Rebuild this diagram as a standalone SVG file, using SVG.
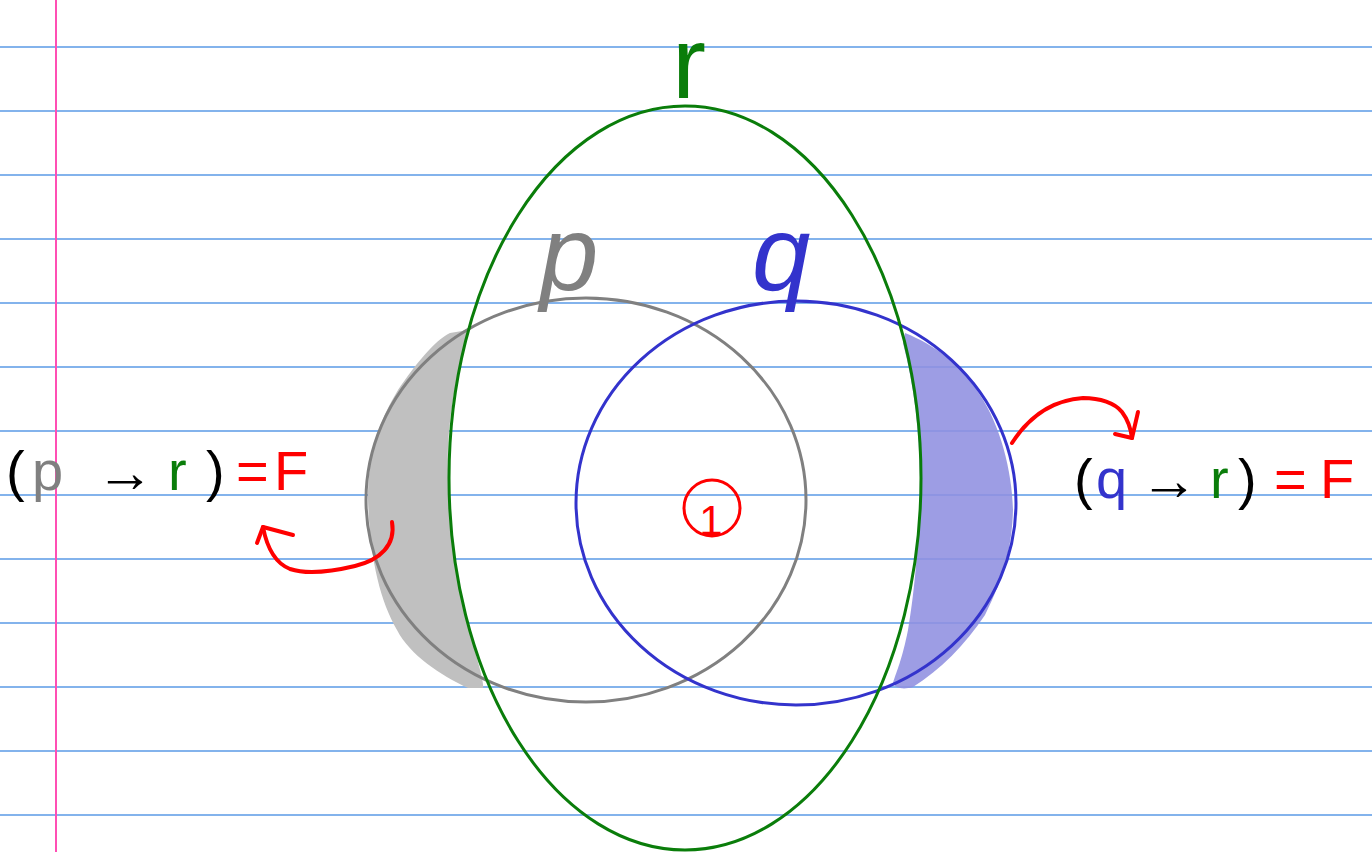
<svg xmlns="http://www.w3.org/2000/svg" width="1372" height="852" viewBox="0 0 1372 852">
<style>
.rule{stroke:#5a9ae6;stroke-width:1.3}
.hand{fill:none;stroke-linecap:round;stroke-linejoin:round}
.lbl{font-family:"Liberation Sans","DejaVu Sans",sans-serif}
.arr{font-size:58px}
</style>
<rect width="1372" height="852" fill="#ffffff"/>
<g id="paper">
<line class="rule" x1="0" y1="47" x2="1372" y2="47"/>
<line class="rule" x1="0" y1="111" x2="1372" y2="111"/>
<line class="rule" x1="0" y1="175" x2="1372" y2="175"/>
<line class="rule" x1="0" y1="239" x2="1372" y2="239"/>
<line class="rule" x1="0" y1="303" x2="1372" y2="303"/>
<line class="rule" x1="0" y1="367" x2="1372" y2="367"/>
<line class="rule" x1="0" y1="431" x2="1372" y2="431"/>
<line class="rule" x1="0" y1="495" x2="1372" y2="495"/>
<line class="rule" x1="0" y1="559" x2="1372" y2="559"/>
<line class="rule" x1="0" y1="623" x2="1372" y2="623"/>
<line class="rule" x1="0" y1="687" x2="1372" y2="687"/>
<line class="rule" x1="0" y1="751" x2="1372" y2="751"/>
<line class="rule" x1="0" y1="815" x2="1372" y2="815"/>
<line x1="56" y1="0" x2="56" y2="852" stroke="#ff4fb4" stroke-width="2"/>
</g>
<g id="shading">
<path d="M468,330 C455,380 446,430 448,470 C449,530 458,600 474,645 C478,665 484,680 483,688 L468,688 C440,675 410,655 397,630 C380,600 370,560 368,500 C368,450 380,420 398,390 C415,365 435,340 450,333 Z" fill="#c0c0c0"/>
<path d="M905,333 C935,345 962,365 980,395 C1000,425 1012,470 1013,510 C1012,545 1005,575 985,615 C965,645 940,670 913,687 C903,690 895,688 893,683 C897,670 902,660 908,630 C915,590 920,530 920,477 C919,430 915,390 903,343 Z" fill="#8f8fe0" fill-opacity="0.88"/>
</g>
<g id="node-p">
<ellipse cx="586" cy="500" rx="220" ry="202" fill="none" stroke="#808080" stroke-width="3"/>
<text class="lbl" x="540" y="290" font-size="105" fill="#808080" font-style="italic">p</text>
</g>
<g id="node-q">
<ellipse cx="796" cy="503" rx="220" ry="202" fill="none" stroke="#3333cc" stroke-width="3"/>
<text class="lbl" x="752" y="290" font-size="105" fill="#3333cc" font-style="italic">q</text>
</g>
<g id="node-r">
<ellipse cx="685" cy="478" rx="236" ry="372" fill="none" stroke="#0a7d0a" stroke-width="3"/>
<text class="lbl" x="672" y="98" font-size="102" fill="#0a7d0a">r</text>
</g>
<g id="node-one">
<circle cx="712" cy="508" r="28" fill="none" stroke="#ff0000" stroke-width="3"/>
<text class="lbl" x="711" y="535" font-size="42" fill="#ff0000" text-anchor="middle">1</text>
</g>
<g id="connectors">
<path class="hand" d="M392,522 C396,545 380,560 355,566 C330,572 305,574 290,569 C275,563 267,548 263,527" stroke="#ff0000" stroke-width="4"/>
<path class="hand" d="M293,535 L263,527 L257,543" stroke="#ff0000" stroke-width="4"/>
<path class="hand" d="M1012,443 C1030,415 1055,400 1083,398 C1100,398 1115,403 1122,412 C1128,420 1131,430 1132,438" stroke="#ff0000" stroke-width="4"/>
<path class="hand" d="M1138,412 L1132,438 L1115,434" stroke="#ff0000" stroke-width="4"/>
</g>
<g id="labels">
<text class="lbl" y="490" font-size="56">
<tspan x="6" fill="#000000">(</tspan><tspan x="32" fill="#808080">p</tspan><tspan class="arr" x="96" y="492" fill="#000000">→</tspan><tspan x="168" y="490" fill="#0a7d0a">r</tspan><tspan x="206" fill="#000000">)</tspan><tspan x="236" fill="#ff0000">=</tspan><tspan x="274" fill="#ff0000">F</tspan>
</text>
<text class="lbl" y="498" font-size="56">
<tspan x="1074" fill="#000000">(</tspan><tspan x="1096" fill="#3333cc">q</tspan><tspan class="arr" x="1140" y="500" fill="#000000">→</tspan><tspan x="1210" y="498" fill="#0a7d0a">r</tspan><tspan x="1238" fill="#000000">)</tspan><tspan x="1274" fill="#ff0000">=</tspan><tspan x="1320" fill="#ff0000">F</tspan>
</text>
</g>
</svg>
